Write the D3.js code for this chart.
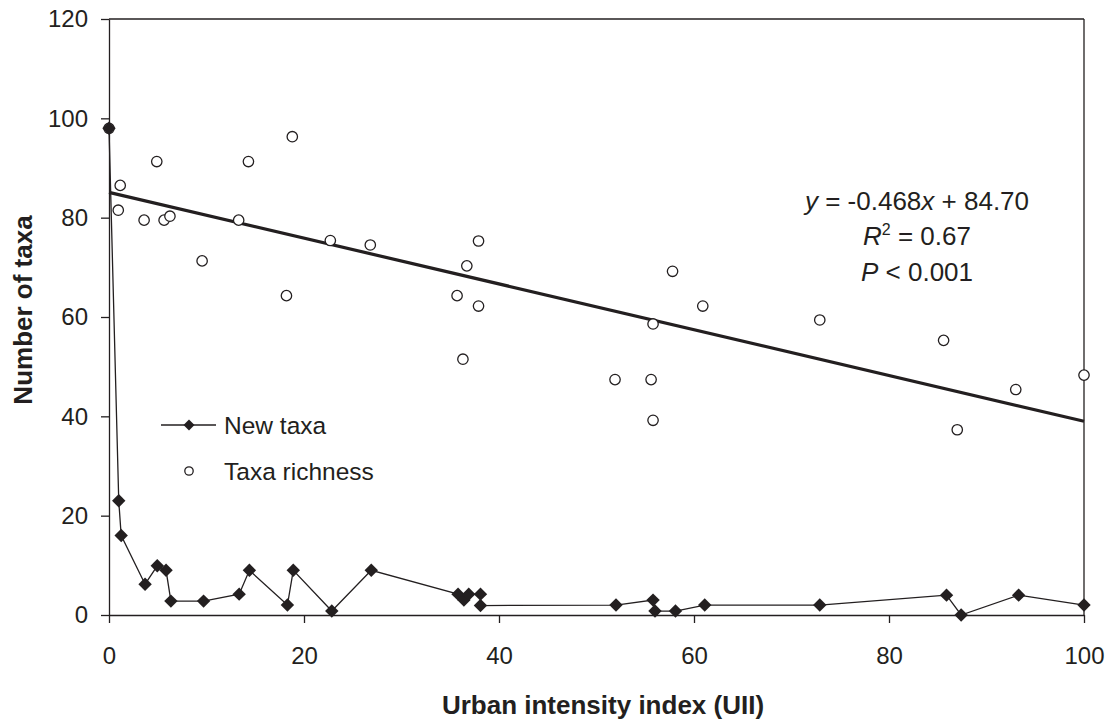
<!DOCTYPE html>
<html><head><meta charset="utf-8">
<script src="https://cdn.jsdelivr.net/npm/d3@7"></script>
<style>body{margin:0;background:#fff}</style>
</head><body>
<svg id="c" width="1113" height="719"></svg>
<script>
// New taxa (filled diamonds, connected line)
const newTaxaX = [0,1.0,1.25,3.7,4.95,5.85,6.35,9.7,13.35,14.4,18.3,18.9,22.85,26.9,35.8,36.4,36.9,38.1,38.1,52,55.8,56,58.1,61.1,72.9,85.9,87.4,93.3,100];
const newTaxaY = [98,23,16,6.2,9.9,9,2.8,2.8,4.2,9,2,9,0.8,9,4.2,3,4.2,4.2,1.9,2,3,0.8,0.8,2,2,4,0,4,2];
// Taxa richness (open circles)
const richX = [0,0.95,1.15,3.6,4.9,5.65,6.25,9.55,13.3,14.3,18.2,18.8,22.7,26.8,35.7,36.3,36.7,37.9,37.9,51.9,55.6,55.8,55.8,57.8,60.9,72.9,85.6,87,93,100];
const richY = [98,81.5,86.5,79.5,91.3,79.5,80.3,71.3,79.5,91.3,64.3,96.3,75.4,74.5,64.3,51.5,70.3,75.3,62.2,47.4,47.4,58.6,39.2,69.2,62.2,59.4,55.3,37.3,45.4,48.3];
// Regression line endpoints (as drawn)
const trendX = [0,100];
const trendY = [85.1,39.0];
const xTicks = [0,20,40,60,80,100];
const yTicks = [0,20,40,60,80,100,120];

const svg = d3.select("#c");
const L=109,R=1084,T=19,B=615;
const x = d3.scaleLinear().domain([0,100]).range([L,R]);
const y = d3.scaleLinear().domain([0,120]).range([B,T]);
const font = "'Liberation Sans', Arial, sans-serif";
const ink = "#231f20";

// frame top/right
svg.append("line").attr("x1",L).attr("x2",R).attr("y1",T).attr("y2",T).attr("stroke",ink).attr("stroke-width",1.3);
svg.append("line").attr("x1",R).attr("x2",R).attr("y1",T).attr("y2",B).attr("stroke",ink).attr("stroke-width",1.3);

const xa = svg.append("g").attr("transform",`translate(0,${B})`)
  .call(d3.axisBottom(x).tickValues(xTicks).tickSize(8).tickPadding(24).tickSizeOuter(0));
const ya = svg.append("g").attr("transform",`translate(${L},0)`)
  .call(d3.axisLeft(y).tickValues(yTicks).tickSize(8).tickPadding(13).tickSizeOuter(0));
[xa,ya].forEach(g=>{
  g.select(".domain").attr("stroke",ink).attr("stroke-width",1.3);
  g.selectAll(".tick line").attr("stroke",ink).attr("stroke-width",1.3);
  g.selectAll("text").attr("font-family",font).attr("font-size",24).attr("fill",ink);
});

// regression
svg.append("line").attr("x1",x(trendX[0])).attr("y1",y(trendY[0])).attr("x2",x(trendX[1])).attr("y2",y(trendY[1]))
  .attr("stroke",ink).attr("stroke-width",3.2);

// new taxa line
const nt = newTaxaX.map((v,i)=>[v,newTaxaY[i]]);
svg.append("path").datum(nt).attr("fill","none").attr("stroke",ink).attr("stroke-width",1.3)
  .attr("d",d3.line().x(d=>x(d[0])).y(d=>y(d[1])));

// richness circles
const rc = richX.map((v,i)=>[v,richY[i]]);
svg.append("g").selectAll("circle").data(rc).join("circle")
  .attr("cx",d=>x(d[0])).attr("cy",d=>y(d[1])).attr("r",5.2)
  .attr("fill","#fff").attr("stroke",ink).attr("stroke-width",1.3);

// diamonds
svg.append("g").selectAll("path").data(nt).join("path")
  .attr("transform",d=>`translate(${x(d[0])},${y(d[1])}) rotate(45)`)
  .attr("d",d3.symbol().type(d3.symbolSquare).size(90)())
  .attr("fill",ink);

// axis titles
svg.append("text").attr("x",603).attr("y",714).attr("text-anchor","middle")
  .attr("font-family",font).attr("font-weight","bold").attr("font-size",26).attr("fill",ink)
  .text("Urban intensity index (UII)");
svg.append("text").attr("transform","translate(32,310) rotate(-90)").attr("text-anchor","middle")
  .attr("font-family",font).attr("font-weight","bold").attr("font-size",26).attr("fill",ink)
  .text("Number of taxa");

// legend
svg.append("line").attr("x1",161).attr("x2",216).attr("y1",425).attr("y2",425).attr("stroke",ink).attr("stroke-width",1.3);
svg.append("path").attr("transform","translate(189,425) rotate(45)").attr("d",d3.symbol().type(d3.symbolSquare).size(60)()).attr("fill",ink);
svg.append("text").attr("x",224).attr("y",434).attr("font-family",font).attr("font-size",24.5).attr("fill",ink).text("New taxa");
svg.append("circle").attr("cx",189).attr("cy",471).attr("r",4.2).attr("fill","#fff").attr("stroke",ink).attr("stroke-width",1.3);
svg.append("text").attr("x",224).attr("y",480).attr("font-family",font).attr("font-size",24.5).attr("fill",ink).text("Taxa richness");

// annotation
const ann = svg.append("g").attr("font-family",font).attr("font-size",26).attr("fill",ink).attr("text-anchor","middle");
const t1 = ann.append("text").attr("x",917).attr("y",210);
t1.append("tspan").attr("font-style","italic").text("y");
t1.append("tspan").text(" = -0.468");
t1.append("tspan").attr("font-style","italic").text("x");
t1.append("tspan").text(" + 84.70");
const t2 = ann.append("text").attr("x",917).attr("y",244.5);
t2.append("tspan").attr("font-style","italic").text("R");
t2.append("tspan").attr("font-size",16).attr("dy",-10).text("2");
t2.append("tspan").attr("dy",10).text(" = 0.67");
const t3 = ann.append("text").attr("x",917).attr("y",281);
t3.append("tspan").attr("font-style","italic").text("P");
t3.append("tspan").text(" < 0.001");
</script>
</body></html>
